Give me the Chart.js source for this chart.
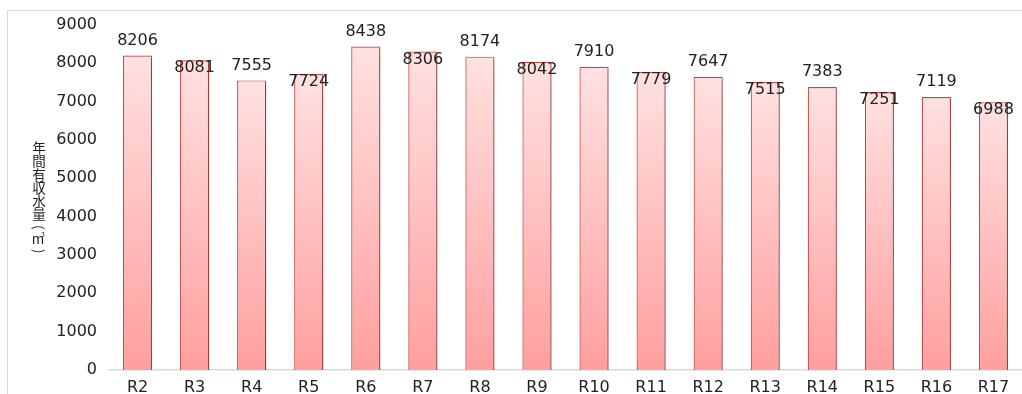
<!DOCTYPE html>
<html>
<head>
<meta charset="utf-8">
<script src="https://cdn.jsdelivr.net/npm/chart.js@4.4.1/dist/chart.umd.min.js"></script>
<style>
  html, body { margin: 0; padding: 0; background: #fff; overflow: hidden; }
  #wrap { position: relative; width: 1022px; height: 394px; }
  #frame { position: absolute; left: 7px; top: 10px; width: 1100px; height: 500px; border: 1px solid #d9d9d9; box-sizing: border-box; }
  #chart { position: absolute; left: 0; top: 0; }
</style>
</head>
<body>
<div id="wrap">
  <div id="frame"></div>
  <canvas id="chart" width="1022" height="394"></canvas>
</div>
<script>
// 年度ラベル
const nendo = ["R2", "R3", "R4", "R5", "R6", "R7", "R8", "R9", "R10", "R11", "R12", "R13", "R14", "R15", "R16", "R17"];
// 年間有収水量（㎥）
const yushuSuiryo = [8206, 8081, 7555, 7724, 8438, 8306, 8174, 8042, 7910, 7779, 7647, 7515, 7383, 7251, 7119, 6988];
const yTitle = ["年", "間", "有", "収", "水", "量"];

const FONT = "DejaVu Sans";
const JP_FONT = "'Noto Sans CJK JP', sans-serif";

// 棒ごとのグラデーション（上が淡いピンク、下が濃いピンク）
function barGradient(ctx) {
    const chart = ctx.chart;
    const y = chart.scales.y;
    if (!y || ctx.raw == null) return "#ffc0c0";
    const top = y.getPixelForValue(ctx.raw);
    const bottom = y.getPixelForValue(0);
    if (!isFinite(top) || !isFinite(bottom) || top === bottom) return "#ffc0c0";
    const g = chart.ctx.createLinearGradient(0, top, 0, bottom);
    g.addColorStop(0, "#ffe1e1");
    g.addColorStop(1, "#ff9f9f");
    return g;
}

// 数値ラベル：交互に棒の上・棒の中
const valueLabels = {
    id: "valueLabels",
    afterDatasetsDraw(chart) {
        const c = chart.ctx;
        const meta = chart.getDatasetMeta(0);
        c.save();
        c.font = "16px '" + FONT + "'";
        c.fillStyle = "#222";
        c.textAlign = "center";
        c.textBaseline = "middle";
        meta.data.forEach((bar, i) => {
            const dy = i % 2 === 0 ? -15 : 8;
            c.fillText(String(yushuSuiryo[i]), bar.x, bar.y + dy);
        });
        c.restore();
    }
};

// 縦書きの軸タイトル
const verticalTitle = {
    id: "verticalTitle",
    afterDraw(chart) {
        const c = chart.ctx;
        const x = 39;
        c.save();
        c.font = "13.5px " + JP_FONT;
        c.fillStyle = "#222";
        c.textAlign = "center";
        c.textBaseline = "middle";
        let y = 148;
        yTitle.forEach(ch => {
            c.fillText(ch, x, y);
            y += 13.2;
        });
        // 括弧は横倒し
        const paren = (ch, py) => {
            c.save();
            c.translate(x, py);
            c.rotate(Math.PI / 2);
            c.fillText(ch, 0, 0);
            c.restore();
        };
        paren("(", y);
        c.fillText("m", x - 1, y + 12);
        c.font = "7px " + JP_FONT;
        c.fillText("3", x + 4, y + 7);
        c.font = "13.5px " + JP_FONT;
        paren(")", y + 24);
        c.restore();
    }
};

// 棒の影
const barShadow = {
    id: "barShadow",
    beforeDatasetsDraw(chart) {
        const c = chart.ctx;
        c.save();
        c.shadowColor = "rgba(0,0,0,0.25)";
        c.shadowBlur = 2;
        c.shadowOffsetX = 1.5;
        c.shadowOffsetY = 1;
    },
    afterDatasetsDraw(chart) {
        chart.ctx.restore();
    }
};

new Chart(document.getElementById("chart"), {
    type: "bar",
    data: {
        labels: nendo,
        datasets: [{
            data: yushuSuiryo,
            backgroundColor: barGradient,
            borderColor: "#c84646",
            borderWidth: 1.2,
            barPercentage: 0.51,
            categoryPercentage: 1.0
        }]
    },
    options: {
        responsive: false,
        animation: false,
        layout: { padding: { top: 25, left: 0, right: 0, bottom: 0 } },
        plugins: {
            legend: { display: false },
            tooltip: { enabled: false }
        },
        scales: {
            x: {
                grid: { display: false, drawTicks: false },
                border: { display: true, color: "#d9d9d9", width: 1.5 },
                ticks: {
                    color: "#222",
                    font: { family: FONT, size: 16 },
                    padding: 8,
                    maxRotation: 0,
                    autoSkip: false
                },
                afterFit(scale) { scale.height = 24; }
            },
            y: {
                min: 0,
                max: 9000,
                grid: { display: false, drawTicks: false },
                border: { display: false },
                ticks: {
                    stepSize: 1000,
                    color: "#222",
                    font: { family: FONT, size: 16 },
                    padding: 12,
                    callback: v => String(v)
                },
                afterFit(scale) { scale.width = 109; }
            }
        }
    },
    plugins: [barShadow, valueLabels, verticalTitle]
});
</script>
</body>
</html>
